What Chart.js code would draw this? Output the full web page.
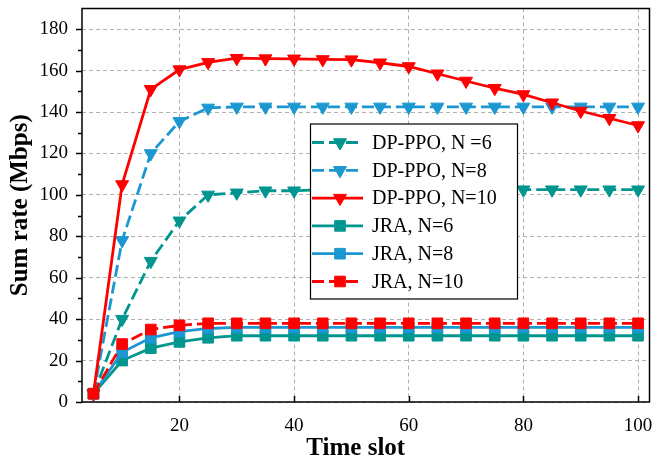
<!DOCTYPE html>
<html>
<head>
<meta charset="utf-8">
<script src="https://cdn.jsdelivr.net/npm/chart.js@4/dist/chart.umd.min.js"></script>
<style>
  html, body { margin: 0; padding: 0; background: #fff; }
  #wrap { width: 658px; height: 462px; }
</style>
</head>
<body>
<div id="wrap"><canvas id="rateChart" width="658" height="462"></canvas></div>
<script>
// Datos: ranuras de tiempo y tasa total (Mbps)
const timeSlots = [5, 10, 15, 20, 25, 30, 35, 40, 45, 50, 55, 60, 65, 70, 75, 80, 85, 90, 95, 100];

const dpppoN6  = [4, 40, 68, 87.5, 100, 101, 102, 102, 102.5, 102.5, 102.5, 102.5, 102.5, 102.5, 102.5, 102.5, 102.5, 102.5, 102.5, 102.5];
const dpppoN8  = [4, 78, 120, 135.5, 142, 142.5, 142.5, 142.5, 142.5, 142.5, 142.5, 142.5, 142.5, 142.5, 142.5, 142.5, 142.5, 142.5, 142.5, 142.5];
const dpppoN10 = [4, 105, 151, 160.5, 164, 166, 165.8, 165.7, 165.4, 165.3, 163.8, 162, 158.5, 155, 151.5, 148.5, 144.5, 140.5, 137, 133.5];
const jraN6    = [4, 20, 26, 29, 31, 32, 32, 32, 32, 32, 32, 32, 32, 32, 32, 32, 32, 32, 32, 32];
const jraN8    = [4, 24, 31, 34, 35.5, 36, 36, 36, 36, 36, 36, 36, 36, 36, 36, 36, 36, 36, 36, 36];
const jraN10   = [4, 28, 35, 37, 38, 38, 38, 38, 38, 38, 38, 38, 38, 38, 38, 38, 38, 38, 38, 38];

const seriesLabels = ["DP-PPO, N =6", "DP-PPO, N=8", "DP-PPO, N=10", "JRA, N=6", "JRA, N=8", "JRA, N=10"];

const xTicks = [20, 40, 60, 80, 100];
const yTicks = [0, 20, 40, 60, 80, 100, 120, 140, 160, 180];
const yMinor = [10, 30, 50, 70, 90, 110, 130, 150, 170];

// Colores
const TEAL = "#00968f";
const BLUE = "#1b97d1";
const RED = "#ff0000";
const FONT = "'Liberation Serif', 'Times New Roman', serif";

function serie(label, data, color, dashed, triangle, order) {
  return {
    label: label,
    data: data,
    borderColor: color,
    backgroundColor: color,
    borderWidth: 2.8,
    borderDash: dashed ? [12, 5] : [],
    pointStyle: triangle ? "triangle" : "rect",
    rotation: triangle ? 180 : 0,
    pointRadius: 7.5,
    pointBorderWidth: 1,
    pointBorderColor: color,
    pointBackgroundColor: color,
    tension: 0,
    order: order
  };
}

const datasets = [
  serie(seriesLabels[0], dpppoN6, TEAL, true, true, 5),
  serie(seriesLabels[1], dpppoN8, BLUE, true, true, 4),
  serie(seriesLabels[2], dpppoN10, RED, false, true, 3),
  serie(seriesLabels[3], jraN6, TEAL, false, false, 2),
  serie(seriesLabels[4], jraN8, BLUE, false, false, 1),
  serie(seriesLabels[5], jraN10, RED, true, false, 0)
];
datasets.forEach(ds => {
  ds.data = ds.data.map((v, i) => ({ x: timeSlots[i], y: v }));
});

// Marco, marcas de los ejes, título del eje x y leyenda dentro del área
const framePlugin = {
  id: "frame",
  afterDraw(chart) {
    const ctx = chart.ctx;
    const area = chart.chartArea;
    const xs = chart.scales.x;
    const ys = chart.scales.y;

    ctx.save();
    ctx.strokeStyle = "#000";
    ctx.lineWidth = 1.5;
    ctx.setLineDash([]);
    ctx.strokeRect(area.left, area.top, area.right - area.left, area.bottom - area.top);

    ctx.beginPath();
    yTicks.forEach(v => {
      const y = Math.round(ys.getPixelForValue(v)) + 0.5;
      ctx.moveTo(area.left - 6, y);
      ctx.lineTo(area.left, y);
    });
    yMinor.forEach(v => {
      const y = Math.round(ys.getPixelForValue(v)) + 0.5;
      ctx.moveTo(area.left - 4, y);
      ctx.lineTo(area.left, y);
    });
    xTicks.forEach(v => {
      const x = Math.round(xs.getPixelForValue(v)) + 0.5;
      ctx.moveTo(x, area.bottom);
      ctx.lineTo(x, area.bottom - 6);
    });
    ctx.stroke();

    // Título del eje x, un poco a la izquierda del centro
    ctx.fillStyle = "#000";
    ctx.font = "bold 25px " + FONT;
    ctx.textAlign = "center";
    ctx.textBaseline = "alphabetic";
    ctx.fillText("Time slot", (area.left + area.right) / 2 - 10, 455);

    // Leyenda
    const lx = area.left + 228;
    const ly = area.top + 115;
    const lw = 207;
    const lh = 175;
    ctx.fillStyle = "#fff";
    ctx.fillRect(lx, ly, lw, lh);
    ctx.lineWidth = 1.2;
    ctx.strokeRect(lx + 0.5, ly + 0.5, lw, lh);

    ctx.font = "20px " + FONT;
    ctx.textBaseline = "middle";
    ctx.textAlign = "left";
    chart.data.datasets.forEach((ds, i) => {
      const y = ly + 19 + i * 27.8;
      ctx.strokeStyle = ds.borderColor;
      ctx.fillStyle = ds.backgroundColor;
      ctx.lineWidth = ds.borderWidth;
      ctx.setLineDash(ds.borderDash);
      ctx.beginPath();
      ctx.moveTo(lx + 2, y);
      ctx.lineTo(lx + 53, y);
      ctx.stroke();
      ctx.setLineDash([]);
      ctx.lineWidth = 1;
      Chart.helpers.drawPoint(ctx, {
        pointStyle: ds.pointStyle,
        rotation: ds.rotation,
        radius: ds.pointRadius,
        borderWidth: 1
      }, lx + 30, y);
      ctx.fillStyle = "#000";
      ctx.fillText(ds.label, lx + 62, y + 1);
    });
    ctx.restore();
  }
};

new Chart(document.getElementById("rateChart"), {
  type: "line",
  data: { datasets: datasets },
  options: {
    responsive: false,
    animation: false,
    devicePixelRatio: 1,
    layout: { padding: { top: 8, right: 5, left: 0, bottom: 0 } },
    plugins: {
      legend: { display: false },
      tooltip: { enabled: false }
    },
    scales: {
      x: {
        type: "linear",
        min: 3,
        max: 102,
        afterBuildTicks: s => { s.ticks = xTicks.map(v => ({ value: v })); },
        afterFit: s => { s.height = 60; s.paddingLeft = 0; s.paddingRight = 0; },
        grid: { color: "#b0b0b0", lineWidth: 1, drawTicks: false },
        border: { display: false, dash: [4, 3] },
        ticks: { color: "#000", font: { family: FONT, size: 19 }, padding: 13, maxRotation: 0 },
        title: { display: false }
      },
      y: {
        type: "linear",
        min: 0,
        max: 190,
        afterBuildTicks: s => { s.ticks = yTicks.map(v => ({ value: v })); },
        afterFit: s => { s.width = 82; s.paddingTop = 0; s.paddingBottom = 0; },
        grid: { color: "#b0b0b0", lineWidth: 1, drawTicks: false },
        border: { display: false, dash: [4, 3] },
        ticks: { color: "#000", font: { family: FONT, size: 19 }, padding: 14 },
        title: {
          display: true,
          text: "Sum rate (Mbps)",
          color: "#000",
          font: { family: FONT, size: 25, weight: "bold" },
          padding: { top: 6, bottom: 0 }
        }
      }
    }
  },
  plugins: [framePlugin]
});
</script>
</body>
</html>
